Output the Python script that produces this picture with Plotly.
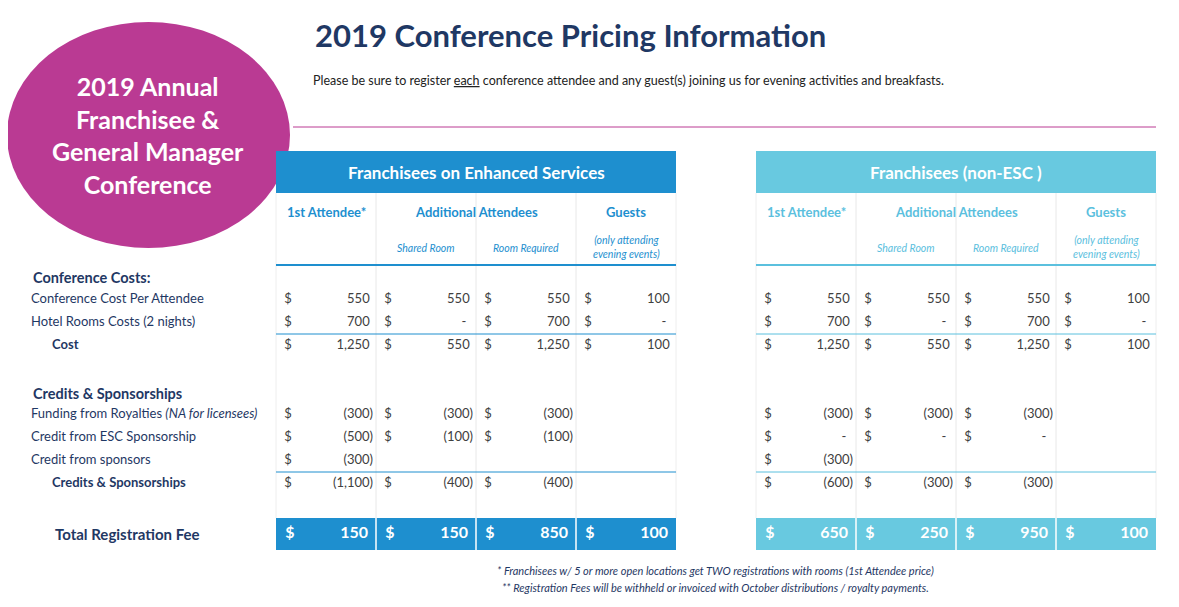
import plotly.graph_objects as go

# row labels / positions of the pricing table
row_labels = ["Conference Cost Per Attendee", "Hotel Rooms Costs (2 nights)", "<b>Cost</b>",
              "Funding from Royalties <i>(NA for licensees)</i>", "Credit from ESC Sponsorship",
              "Credit from sponsors", "<b>Credits & Sponsorships</b>"]
row_indent = [31, 31, 52, 31, 31, 31, 52]
row_y = [300, 323, 346, 415, 438, 461, 484]

# values per column (None = empty cell, 0 = dash)
esc_first = [550, 700, 1250, -300, -500, -300, -1100]
esc_shared = [550, 0, 550, -300, -100, None, -400]
esc_room = [550, 700, 1250, -300, -100, None, -400]
esc_guest = [100, 0, 100, None, None, None, None]
non_first = [550, 700, 1250, -300, 0, -300, -600]
non_shared = [550, 0, 550, -300, 0, None, -300]
non_room = [550, 700, 1250, -300, 0, None, -300]
non_guest = [100, 0, 100, None, None, None, None]
esc_total = [150, 150, 850, 100]
non_total = [650, 250, 950, 100]

esc_cols = [276, 376, 476, 576, 676]
non_cols = [756, 856, 956, 1056, 1156]

ESC_BLUE = "#1E8FCF"
NON_BLUE = "#68C9E0"
NAVY = "#1F3864"
GREY = "#404040"
PINK = "#BA3A93"
FONT = "Lato, Open Sans, sans-serif"


def fmt(v):
    if v is None:
        return ""
    if v == 0:
        return "-&nbsp;&nbsp;"
    if v < 0:
        return "({:,})".format(-v)
    return "{:,}&nbsp;".format(v)


fig = go.Figure()
shapes = []
annotations = []


def add_table(cols, band, head_color, title, values, totals):
    left, right = cols[0], cols[-1]
    shapes.append(dict(type="rect", x0=left, x1=right, y0=151, y1=193, fillcolor=band, line_width=0))
    annotations.append(dict(x=(left + right) / 2, y=172, text="<b>" + title + "</b>", showarrow=False,
                            font=dict(color="white", size=17, family=FONT)))
    for c in cols[1:-1]:
        shapes.append(dict(type="line", x0=c, x1=c, y0=193, y1=518, line=dict(color="#E8E8E8", width=1)))
    shapes.append(dict(type="line", x0=right, x1=right, y0=193, y1=518, line=dict(color="#EEEEEE", width=1)))
    shapes.append(dict(type="line", x0=left, x1=left, y0=193, y1=518, line=dict(color="#EEEEEE", width=1)))
    shapes.append(dict(type="line", x0=left, x1=right, y0=265, y1=265, line=dict(color=head_color, width=2)))
    for yy in (334, 472):
        shapes.append(dict(type="line", x0=left, x1=right, y0=yy, y1=yy, line=dict(color=head_color, width=1)))
    shapes.append(dict(type="rect", x0=left, x1=right, y0=518, y1=550, fillcolor=band, line_width=0,
                       layer="below"))
    for c in cols[1:-1]:
        shapes.append(dict(type="line", x0=c, x1=c, y0=518, y1=550, line=dict(color="white", width=1.5),
                           layer="below"))
    hf = dict(color=head_color, size=13, family=FONT)
    annotations.append(dict(x=(cols[0] + cols[1]) / 2, y=212, text="<b>1st Attendee*</b>", showarrow=False, font=hf))
    annotations.append(dict(x=cols[2], y=212, text="<b>Additional Attendees</b>", showarrow=False, font=hf))
    annotations.append(dict(x=(cols[3] + cols[4]) / 2, y=212, text="<b>Guests</b>", showarrow=False, font=hf))
    sf = dict(color=head_color, size=10.5, family=FONT)
    annotations.append(dict(x=(cols[1] + cols[2]) / 2, y=248, text="<i>Shared Room</i>", showarrow=False, font=sf))
    annotations.append(dict(x=(cols[2] + cols[3]) / 2, y=248, text="<i>Room Required</i>", showarrow=False, font=sf))
    annotations.append(dict(x=(cols[3] + cols[4]) / 2, y=247, text="<i>(only attending<br>evening events)</i>",
                            showarrow=False, font=sf))
    for i, col in enumerate(values):
        fig.add_trace(go.Scatter(x=[cols[i] + 12] * len(row_y), y=row_y, mode="text",
                                 text=["$" if v is not None else "" for v in col],
                                 textfont=dict(color=GREY, size=13, family=FONT), hoverinfo="skip"))
        fig.add_trace(go.Scatter(x=[cols[i + 1] - 3] * len(row_y), y=row_y, mode="text",
                                 text=[fmt(v) for v in col], textposition="middle left",
                                 textfont=dict(color=GREY, size=13, family=FONT), hoverinfo="skip"))
    fig.add_trace(go.Scatter(x=[c + 14 for c in cols[:-1]], y=[534] * 4, mode="text",
                             text=["<b>$</b>"] * 4, textfont=dict(color="white", size=16, family=FONT),
                             hoverinfo="skip"))
    fig.add_trace(go.Scatter(x=[c - 8 for c in cols[1:]], y=[534] * 4, mode="text",
                             text=["<b>{}</b>".format(t) for t in totals], textposition="middle left",
                             textfont=dict(color="white", size=16, family=FONT), hoverinfo="skip"))


add_table(esc_cols, ESC_BLUE, ESC_BLUE, "Franchisees on Enhanced Services",
          [esc_first, esc_shared, esc_room, esc_guest], esc_total)
add_table(non_cols, NON_BLUE, "#5BC0DE", "Franchisees (non-ESC )",
          [non_first, non_shared, non_room, non_guest], non_total)

# row labels
fig.add_trace(go.Scatter(x=row_indent, y=row_y, mode="text", text=row_labels, textposition="middle right",
                         textfont=dict(color=NAVY, size=13, family=FONT), hoverinfo="skip"))
for txt, yy in (("<b>Conference Costs:</b>", 277), ("<b>Credits & Sponsorships</b>", 393)):
    annotations.append(dict(x=31, y=yy, text=txt, xanchor="left", showarrow=False,
                            font=dict(color=NAVY, size=14.5, family=FONT)))
annotations.append(dict(x=53, y=534, text="<b>Total Registration Fee</b>", xanchor="left", showarrow=False,
                        font=dict(color=NAVY, size=15, family=FONT)))

# circle badge
shapes.append(dict(type="circle", x0=7, x1=290, y0=22, y1=248, fillcolor=PINK, line_width=0, layer="below"))
annotations.append(dict(x=148, y=135, text="<b>2019 Annual<br>Franchisee &<br>General Manager<br>Conference</b>",
                        showarrow=False, font=dict(color="white", size=25, family=FONT)))

# title and notes
annotations.append(dict(x=313, y=35, text="<b>2019 Conference Pricing Information</b>", xanchor="left",
                        showarrow=False, font=dict(color=NAVY, size=31, family=FONT)))
annotations.append(dict(x=311, y=80, xanchor="left", showarrow=False,
                        text="Please be sure to register <u>each</u> conference attendee and any guest(s) joining us for evening activities and breakfasts.",
                        font=dict(color="#222222", size=12.5, family=FONT)))
shapes.append(dict(type="line", x0=293, x1=1156, y0=127, y1=127, line=dict(color=PINK, width=1)))
annotations.append(dict(x=715, y=570, showarrow=False,
                        text="<i>* Franchisees w/ 5 or more open locations get TWO registrations with rooms (1st Attendee price)</i>",
                        font=dict(color=NAVY, size=11, family=FONT)))
annotations.append(dict(x=715, y=587, showarrow=False,
                        text="<i>** Registration Fees will be withheld or invoiced with October distributions / royalty payments.</i>",
                        font=dict(color=NAVY, size=11, family=FONT)))

for s in shapes:
    s.setdefault("xref", "x")
    s.setdefault("yref", "y")
for a in annotations:
    a.setdefault("xref", "x")
    a.setdefault("yref", "y")

# page body has an 8px margin, so shift the ranges to keep pixel positions
fig.update_layout(
    width=1179, height=607, margin=dict(l=0, r=0, t=0, b=0),
    plot_bgcolor="white", paper_bgcolor="white", showlegend=False,
    shapes=shapes, annotations=annotations,
    xaxis=dict(range=[8, 1187], visible=False, fixedrange=True),
    yaxis=dict(range=[615, 8], visible=False, fixedrange=True),
)

fig.write_html("out.html")
